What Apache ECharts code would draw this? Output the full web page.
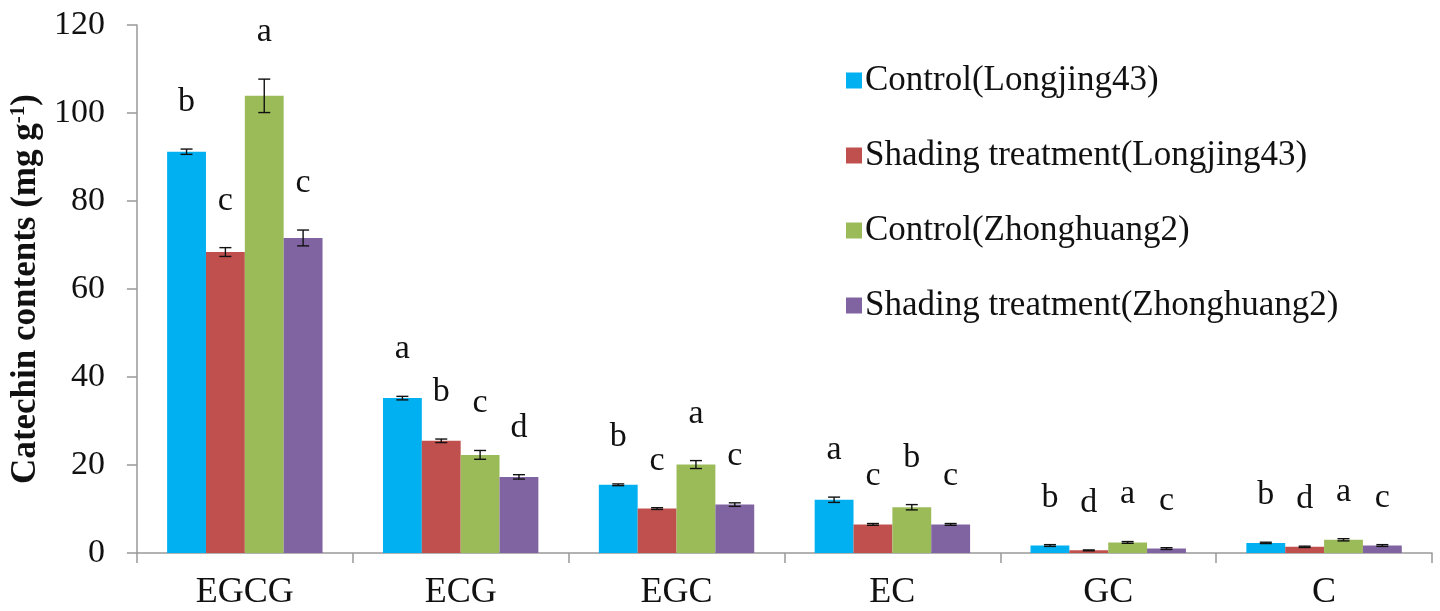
<!DOCTYPE html>
<html><head><meta charset="utf-8">
<script src="https://cdn.jsdelivr.net/npm/echarts@6/dist/echarts.min.js"></script>
<style>html,body{margin:0;padding:0;background:#fff}#c{width:1440px;height:611px}</style>
</head><body><div id="c"></div>
<script>
const categories = ['EGCG','ECG','EGC','EC','GC','C'];
const seriesNames = ['Control(Longjing43)','Shading treatment(Longjing43)','Control(Zhonghuang2)','Shading treatment(Zhonghuang2)'];
const ctrlLJ = [91.2, 35.2, 15.5, 12.1, 1.7, 2.3];
const shadLJ = [68.4, 25.5, 10.1, 6.5, 0.6, 1.4];
const ctrlZH = [103.9, 22.3, 20.1, 10.4, 2.4, 3.0];
const shadZH = [71.6, 17.3, 11.0, 6.5, 1.0, 1.7];
const errLJc = [0.6, 0.4, 0.2, 0.6, 0.2, 0.15];
const errLJs = [1.0, 0.4, 0.2, 0.2, 0.1, 0.15];
const errZHc = [3.8, 1.0, 0.9, 0.6, 0.2, 0.25];
const errZHs = [1.8, 0.5, 0.4, 0.2, 0.2, 0.2];
const lettersLJc = ['b','a','b','a','b','b'];
const lettersLJs = ['c','b','c','c','d','d'];
const lettersZHc = ['a','c','a','b','a','a'];
const lettersZHs = ['c','d','c','c','c','c'];
const yTicks = [0, 20, 40, 60, 80, 100, 120];

const values = [ctrlLJ, shadLJ, ctrlZH, shadZH];
const errs = [errLJc, errLJs, errZHc, errZHs];
const letters = [lettersLJc, lettersLJs, lettersZHc, lettersZHs];
const colors = ['#00B0F0','#C0504D','#9BBB59','#8064A2'];
const gapRatio = 0.28;
const font = '"Liberation Serif","Times New Roman",serif';

const chart = echarts.init(document.getElementById('c'));
const series = [];
values.forEach((v, i) => {
  series.push({
    name: seriesNames[i], type: 'bar', data: v, barGap: '0%', barCategoryGap: (gapRatio*100)+'%',
    itemStyle: {color: colors[i]}, silent: true
  });
});
values.forEach((v, i) => {
  series.push({
    type: 'custom', silent: true, z: 5,
    data: v.map((val, k) => [k, val, errs[i][k], letters[i][k]]),
    encode: {x: 0, y: 1},
    renderItem: function (params, api) {
      const k = api.value(0), val = api.value(1), e = api.value(2);
      const band = api.size([1, 0])[0];
      const group = band * (1 - gapRatio);
      const bw = group / 4;
      const cx = api.coord([k, 0])[0] - group / 2 + bw * (i + 0.5);
      const yHi = api.coord([k, val + e])[1];
      const yLo = api.coord([k, val - e])[1];
      const cap = 6;
      const st = {stroke: '#111', lineWidth: 1.4};
      return {type: 'group', children: [
        {type: 'line', shape: {x1: cx, y1: yHi, x2: cx, y2: yLo}, style: st},
        {type: 'line', shape: {x1: cx - cap, y1: yHi, x2: cx + cap, y2: yHi}, style: st},
        {type: 'line', shape: {x1: cx - cap, y1: yLo, x2: cx + cap, y2: yLo}, style: st},
        {type: 'text', style: {text: letters[i][k], x: cx, y: yHi - 30, align: 'center', verticalAlign: 'bottom',
          font: '34px ' + font, fill: '#111'}}
      ]};
    }
  });
});

chart.setOption({
  animation: false,
  grid: {left: 136, right: 8, top: 25, bottom: 58},
  legend: {
    orient: 'vertical', left: 841, top: 58, itemWidth: 16, itemHeight: 16, itemGap: 40,
    icon: 'rect',
    data: seriesNames,
    textStyle: {fontFamily: font, fontSize: 35, color: '#111', padding: [0,0,0,-2]}
  },
  xAxis: {
    type: 'category', data: categories,
    axisLine: {lineStyle: {color: '#999', width: 1.5}},
    axisTick: {show: true, length: 10, lineStyle: {color: '#999', width: 1.5}},
    axisLabel: {fontFamily: font, fontSize: 36, color: '#111', margin: 22}
  },
  yAxis: {
    type: 'value', min: yTicks[0], max: yTicks[yTicks.length-1], interval: 20,
    name: '{t|Catechin contents (mg g}{s|-1}{t|)}', nameLocation: 'middle', nameRotate: 90, nameGap: 90,
    nameTextStyle: {rich: {
      t: {fontFamily: font, fontSize: 35, fontWeight: 'bold', color: '#111'},
      s: {fontFamily: font, fontSize: 21, fontWeight: 'bold', color: '#111', verticalAlign: 'top', padding: [0,0,14,0]}
    }},
    axisLine: {show: true, lineStyle: {color: '#999', width: 1.5}},
    axisTick: {show: true, length: 10, lineStyle: {color: '#999', width: 1.5}},
    splitLine: {show: false},
    axisLabel: {fontFamily: font, fontSize: 34, color: '#111', margin: 32}
  },
  series: series
});
</script></body></html>
